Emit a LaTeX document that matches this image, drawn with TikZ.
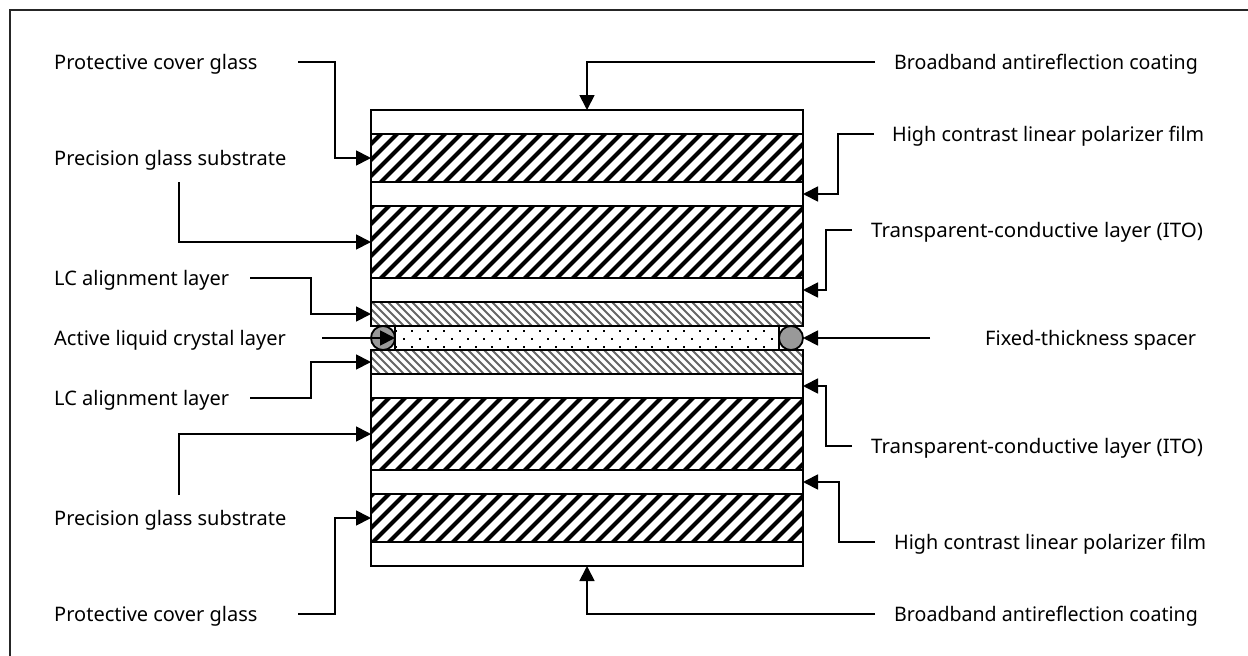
\documentclass[tikz,border=0pt]{standalone}
\usepackage{fontspec}
\setmainfont{Noto Sans}
\usetikzlibrary{arrows.meta}
\definecolor{sphere}{HTML}{999999}
\tikzset{
  x=1pt,y=-1pt,
  layer/.style={draw=black,line width=1.8pt,minimum width=432pt,inner sep=0pt,outer sep=0pt,rectangle},
  ball/.style={circle,draw=black,line width=1.8pt,fill=sphere,minimum size=24pt,inner sep=0pt,outer sep=0pt},
  lbl/.style={anchor=base west,inner sep=0pt,font=\fontsize{20pt}{22pt}\selectfont,text=black},
  conn/.style={line width=1.8pt,-{Triangle[length=15pt,width=15pt]}},
}
\newcommand{\wide}[2]{%
  \begin{scope}
    \clip (371,#1) rectangle (803,#2);
    \foreach \c in {483,499,...,1379}{
      \draw[line width=4.2pt,black] ({\c-#1+8},{#1-8}) -- ({\c-#2-8},{#2+8});
    }
  \end{scope}}
\newcommand{\fine}[2]{%
  \begin{scope}
    \clip (371,#1) rectangle (803,#2);
    \foreach \c in {-10,-2,...,510}{
      \draw[line width=2pt,black!60] ({\c+#1-8},{#1-8}) -- ({\c+#2+8},{#2+8});
    }
  \end{scope}}
\begin{document}
\begin{tikzpicture}
\useasboundingbox (0,0) rectangle (1248,656);
\fill[white] (0,0) rectangle (1248,656);
\draw[line width=1.5pt,black!85] (10,656) -- (10,10) -- (1248,10);
% hatching
\wide{134}{182}\wide{206}{278}\wide{398}{470}\wide{494}{542}
\fine{302}{326}\fine{350}{374}
% dots
\foreach \k in {0,...,23}{
  \fill ({395.2+16*\k},330.2) rectangle ++(1.8,1.8);
  \fill ({395.2+16*\k},346.2) rectangle ++(1.8,1.8);
  \fill ({403.2+16*\k},338.2) rectangle ++(1.8,1.8);
}
% layers
\node[layer,minimum height=24pt] (t1) at (587,122) {};
\node[layer,minimum height=48pt] (h1) at (587,158) {};
\node[layer,minimum height=24pt] (t2) at (587,194) {};
\node[layer,minimum height=72pt] (h2) at (587,242) {};
\node[layer,minimum height=24pt] (t3) at (587,290) {};
\node[layer,minimum height=24pt] (f1) at (587,314) {};
\node[layer,minimum height=24pt,minimum width=384pt] (lc) at (587,338) {};
\node[layer,minimum height=24pt] (f2) at (587,362) {};
\node[layer,minimum height=24pt] (t4) at (587,386) {};
\node[layer,minimum height=72pt] (h3) at (587,434) {};
\node[layer,minimum height=24pt] (t5) at (587,482) {};
\node[layer,minimum height=48pt] (h4) at (587,518) {};
\node[layer,minimum height=24pt] (t6) at (587,554) {};
\node[ball] (bl) at (383,338) {};
\node[ball] (br) at (791,338) {};
% left labels
\node[lbl] (a1) at (54,69) {Protective cover glass};
\node[lbl] (a2) at (54,165) {Precision glass substrate};
\node[lbl] (a3) at (54,285) {LC alignment layer};
\node[lbl] (a4) at (54,345) {Active liquid crystal layer};
\node[lbl] (a5) at (54,405) {LC alignment layer};
\node[lbl] (a6) at (54,525) {Precision glass substrate};
\node[lbl] (a7) at (54,621) {Protective cover glass};
% right labels
\node[lbl] (b1) at (894,69) {\scalebox{0.98}[1]{Broadband antireflection coating}};
\node[lbl] (b2) at (892,141) {\scalebox{0.99}[1]{High contrast linear polarizer film}};
\node[lbl] (b3) at (871,237) {\scalebox{1.025}[1]{Transparent-conductive layer (ITO)}};
\node[lbl] (b4) at (985,345) {Fixed-thickness spacer};
\node[lbl] (b5) at (871,453) {\scalebox{1.025}[1]{Transparent-conductive layer (ITO)}};
\node[lbl] (b6) at (894,549) {\scalebox{0.99}[1]{High contrast linear polarizer film}};
\node[lbl] (b7) at (894,621) {\scalebox{0.98}[1]{Broadband antireflection coating}};
% free ends
\coordinate (s1) at (298,62);
\coordinate (s2) at (179,182);
\coordinate (s3) at (250,278);
\coordinate (s4) at (322,338);
\coordinate (s5) at (250,398);
\coordinate (s6) at (179,495);
\coordinate (s7) at (298,614);
\coordinate (e1) at (875,62);
\coordinate (e2) at (874,134);
\coordinate (e3) at (852,230);
\coordinate (e4) at (930,338);
\coordinate (e5) at (852,446);
\coordinate (e6) at (875,542);
\coordinate (e7) at (875,614);
% connectors
\draw[conn] (s1) -- ++(37,0) |- (h1.west);
\draw[conn] (s2) |- (h2.west);
\draw[conn] (s3) -- ++(61,0) |- (f1.west);
\draw[conn] (s4) -- (lc.west);
\draw[conn] (s5) -- ++(61,0) |- (f2.west);
\draw[conn] (s6) |- (h3.west);
\draw[conn] (s7) -- ++(37,0) |- (h4.west);
\draw[conn] (e1) -| (t1.north);
\draw[conn] (e2) -- ++(-36,0) |- (t2.east);
\draw[conn] (e3) -- ++(-26,0) |- (t3.east);
\draw[conn] (e4) -- (br.east);
\draw[conn] (e5) -- ++(-26,0) |- (t4.east);
\draw[conn] (e6) -- ++(-36,0) |- (t5.east);
\draw[conn] (e7) -| (t6.south);
\end{tikzpicture}
\end{document}
